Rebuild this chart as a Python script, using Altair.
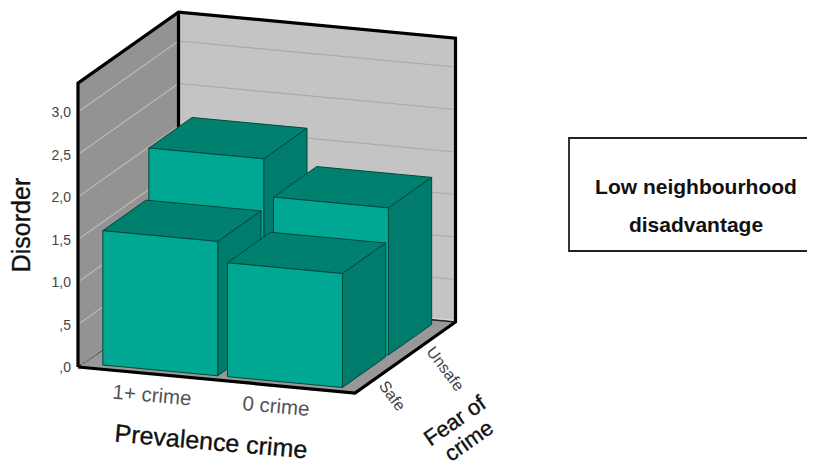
import altair as alt
import pandas as pd

# ---- values ----
crime_levels = ["1+ crime", "0 crime"]
fear_levels = ["Safe", "Unsafe"]
disorder_safe = [1.58, 1.34]
disorder_unsafe = [2.17, 1.73]
tick_values = [0.0, 0.5, 1.0, 1.5, 2.0, 2.5, 3.0]
tick_labels = [",0", ",5", "1,0", "1,5", "2,0", "2,5", "3,0"]
wall_top = 3.34
crime_spans = [(0.07, 0.485), (0.52, 0.935)]
fear_spans = {"Safe": (0.054, 0.484), "Unsafe": (0.512, 0.942)}

# the page has an 8px margin on every side
LEFT, TOP = 8, 8
RIGHT, BOTTOM = 807, 465
X_SCALE = alt.Scale(domain=[LEFT, RIGHT], range=[0, RIGHT - LEFT])
Y_SCALE = alt.Scale(domain=[TOP, BOTTOM], range=[0, BOTTOM - TOP])


def project(a, d, v):
    """Oblique view: a along crime axis, d along fear axis, v = Disorder."""
    return (78 + 277 * a + 100.5 * d, 367 + 26 * a - 71 * d - 85 * v)


polys, lines = [], []
polygon_index = [0]
line_index = [0]


def add_poly(name, pts, fill, stroke="#00483c", sw=1.0):
    polygon_index[0] += 1
    closed = list(pts) + [pts[0]]
    for i, (x, y) in enumerate(closed):
        polys.append(dict(id=f"{polygon_index[0]:03d}-{name}", px=x, py=y, o=i, fill=fill, stroke=stroke, sw=sw))


def add_line(pts, color, sw):
    line_index[0] += 1
    for i, (x, y) in enumerate(pts):
        lines.append(dict(id=f"{line_index[0]:03d}", px=x, py=y, o=i, color=color, sw=sw))


# walls and floor
add_poly("left", [project(0, 0, 0), project(0, 1, 0), project(0, 1, wall_top), project(0, 0, wall_top)], "#939393", "#939393")
add_poly("back", [project(0, 1, 0), project(1, 1, 0), project(1, 1, wall_top), project(0, 1, wall_top)], "#c4c4c4", "#c4c4c4")
add_poly("floor", [project(0, 0, 0), project(1, 0, 0), project(1, 1, 0), project(0, 1, 0)], "#989898", "#989898")

# gridlines
for t in tick_values[1:]:
    add_line([project(0, 0, t), project(0, 1, t)], "#b9b9b9", 1.2)
    add_line([project(0, 1, t), project(1, 1, t)], "#a9a9a9", 1.2)

# frame
add_line([project(0.0, 0.0, 0), project(0, 1, 0)], "#111111", 1.2)
add_line([project(0.0, 0.03, 0), project(0, 1, 0.03)], "#dddddd", 0.8)
add_line([project(0, 1, 0), project(1, 1, 0)], "#222222", 1.5)
add_line([project(0, 1, 0.02), project(1, 1, 0.02)], "#e8e8e8", 0.7)
add_line([project(0, 0, 0), project(0, 0, wall_top), project(0, 1, wall_top), project(1, 1, wall_top), project(1, 1, 0), project(1, 0, 0), project(0, 0, 0)], "#000000", 3.2)
add_line([project(0, 1, 0), project(0, 1, wall_top)], "#000000", 3.2)

# bars, back row first
for fear, values in [("Unsafe", disorder_unsafe), ("Safe", disorder_safe)]:
    d0, d1 = fear_spans[fear]
    for crime, (a0, a1), v in zip(crime_levels, crime_spans, values):
        name = f"{fear}-{crime}"
        add_poly(name + "-top", [project(a0, d0, v), project(a1, d0, v), project(a1, d1, v), project(a0, d1, v)], "#00806e")
        add_poly(name + "-side", [project(a1, d0, 0), project(a1, d1, 0), project(a1, d1, v), project(a1, d0, v)], "#007b6c")
        add_poly(name + "-front", [project(a0, d0, 0), project(a1, d0, 0), project(a1, d0, v), project(a0, d0, v)], "#00a894")

# annotation box, open at the right-hand edge of the picture
add_line([(818, 138), (569, 138), (569, 251), (818, 251)], "#222222", 1.8)

df_poly = pd.DataFrame(polys)
df_line = pd.DataFrame(lines)


def xy():
    return dict(
        x=alt.X("px:Q", scale=X_SCALE, axis=None),
        y=alt.Y("py:Q", scale=Y_SCALE, axis=None),
    )


def poly_layer(frame):
    row = frame.iloc[0]
    return alt.Chart(frame).mark_line(
        fill=row["fill"], stroke=row["stroke"], strokeWidth=float(row["sw"]), interpolate="linear"
    ).encode(order="o:Q", **xy())


def line_layer(frame):
    row = frame.iloc[0]
    return alt.Chart(frame).mark_line(
        stroke=row["color"], strokeWidth=float(row["sw"]), strokeJoin="miter", clip=True
    ).encode(order="o:Q", **xy())


def text_layer(rows, size, color, weight="normal", align="center", halo=0.0):
    frame = pd.DataFrame(rows)
    extra = dict(stroke=color, strokeWidth=halo) if halo else {}
    return alt.Chart(frame).mark_text(
        font="Liberation Sans", fontSize=size, color=color, fontWeight=weight,
        align=align, baseline="middle", **extra
    ).encode(text="t:N", angle=alt.Angle("a:Q", scale=None), **xy())


wall_ids = [i for i in df_poly["id"].unique() if i.split("-")[1] in ("left", "back", "floor")]
bar_ids = [i for i in df_poly["id"].unique() if i not in wall_ids]

layers = [poly_layer(df_poly[df_poly["id"] == i]) for i in wall_ids]
layers += [line_layer(df_line[df_line["id"] == i]) for i in df_line["id"].unique()]
layers += [poly_layer(df_poly[df_poly["id"] == i]) for i in bar_ids]

tick_rows = [dict(px=71, py=project(0, 0, v)[1] + 1, t=l, a=0) for v, l in zip(tick_values, tick_labels)]
layers.append(text_layer(tick_rows, 14, "#444444", align="right"))

layers.append(text_layer([
    dict(px=152, py=396, t=crime_levels[0], a=5),
    dict(px=276, py=407, t=crime_levels[1], a=5),
], 20.5, "#555555"))
layers.append(text_layer([
    dict(px=392, py=396, t=fear_levels[0], a=54),
    dict(px=445, py=369, t=fear_levels[1], a=53),
], 16, "#444444"))

layers.append(text_layer([
    dict(px=22, py=225, t="Disorder", a=270),
    dict(px=211, py=442, t="Prevalence crime", a=5),
], 25, "#111111", halo=0.35))
layers.append(text_layer([
    dict(px=455, py=421, t="Fear of", a=325),
    dict(px=469, py=441, t="crime", a=325),
], 22, "#111111", halo=0.35))

layers.append(text_layer([
    dict(px=696, py=188, t="Low neighbourhood", a=0),
    dict(px=696, py=226, t="disadvantage", a=0),
], 21, "#111111", weight="bold"))

chart = alt.layer(*layers).properties(
    width=RIGHT - LEFT,
    height=BOTTOM - TOP,
    padding=0,
    autosize=alt.AutoSizeParams(type="none"),
).configure_view(stroke=None)

chart.save("out.html", embed_options={"renderer": "svg", "actions": False})
